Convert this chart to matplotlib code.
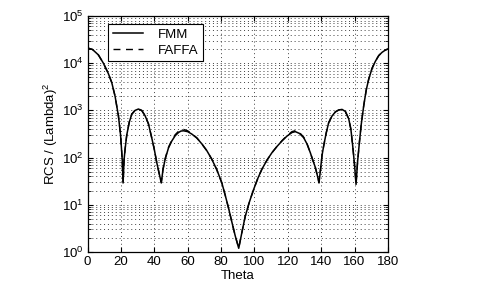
import matplotlib
matplotlib.use("Agg")
import matplotlib.pyplot as plt
from matplotlib.ticker import LogLocator, NullFormatter

plt.rcParams['font.family'] = ['Liberation Sans', 'DejaVu Sans']
plt.rcParams['mathtext.fontset'] = 'custom'
plt.rcParams['mathtext.rm'] = 'Liberation Sans'
plt.rcParams['mathtext.it'] = 'Liberation Sans:italic'
plt.rcParams['mathtext.bf'] = 'Liberation Sans:bold'

theta = [0, 3, 6.5, 9.5, 12.5, 14.5, 16.5, 18.5, 19.8, 20.8, 21.3, 21.9, 22.5,
         23.5, 25, 26.5, 28.5, 30.5, 32.5, 34.5, 36.5, 38.5, 40, 41.5, 43, 44.2,
         45.2, 46.5, 48.5, 50.5, 52.5, 54.5, 56, 57.5, 60, 62.5, 65.5, 68.5,
         71.5, 74.5, 77.5, 80.5, 82.5, 84.5, 86.5, 88.5, 90.6, 92.5, 94.5, 97,
         99.5, 102, 104.5, 107.5, 110.5, 113.5, 116.5, 119.5, 122.5, 124.5,
         127, 129.5, 131.5, 133.5, 135, 136.5, 137.7, 138.7, 139.7, 140.5,
         141.5, 143, 144.5, 146.5, 148.5, 150.5, 152.5, 154.5, 156.5, 157.8,
         158.9, 160, 160.9, 161.8, 162.9, 164, 165.5, 167, 168.5, 170.5, 172.5,
         174.5, 176.5, 178.5, 180]

fmm = [2.1e4, 1.95e4, 1.5e4, 1.0e4, 6.0e3, 3.9e3, 2.0e3, 770, 300, 90, 29, 90, 150,
       300, 560, 830, 1000, 1070, 990, 770, 520, 260, 150, 78, 45, 29,
       55, 92, 160, 225, 290, 340, 365, 370, 355, 315, 260, 195,
       140, 92, 55, 29, 16, 8.5, 4.3, 2.2, 1.2, 2.6, 5.7, 11.5,
       21, 36, 57, 88, 127, 172, 225, 285, 340, 355,
       325, 265, 195, 127, 88, 62, 42, 29, 60, 110,
       177, 330, 550, 760, 930, 1020, 1050, 950, 665, 400,
       177, 70, 27, 80, 208, 500, 1260, 2700, 4600, 7800, 1.1e4,
       1.45e4, 1.7e4, 1.9e4, 2.0e4]

faffa = [2.1e4, 1.95e4, 1.5e4, 1.0e4, 6.0e3, 3.9e3, 2.0e3, 770, 300, 90, 29, 90, 150,
         300, 560, 830, 1010, 1080, 1000, 770, 520, 260, 150, 78, 45, 30,
         57, 95, 165, 235, 305, 360, 390, 395, 370, 320, 262, 195,
         140, 92, 55, 29, 16, 8.5, 4.3, 2.2, 1.22, 2.6, 5.7, 11.5,
         21, 36, 57, 88, 127, 172, 228, 292, 355, 372,
         340, 272, 198, 127, 88, 62, 42, 30, 60, 110,
         177, 330, 550, 760, 930, 1020, 1050, 950, 665, 400,
         177, 70, 28, 80, 208, 500, 1260, 2700, 4600, 7800, 1.1e4,
         1.45e4, 1.7e4, 1.9e4, 2.0e4]

xticks = [0, 20, 40, 60, 80, 100, 120, 140, 160, 180]

fig = plt.figure(figsize=(4.99, 2.83), dpi=100)
ax = fig.add_axes([0.1754, 0.1095, 0.602, 0.834])

ax.semilogy(theta, fmm, color='black', lw=1.1, linestyle='-', label='FMM')
ax.semilogy(theta, faffa, color='black', lw=1.0, linestyle=(0, (5, 4)), label='FAFFA')

ax.set_xlim(0, 180)
ax.set_ylim(1, 1e5)
ax.set_xticks(xticks)
ax.yaxis.set_major_locator(LogLocator(base=10, numticks=10))
ax.yaxis.set_minor_locator(LogLocator(base=10, subs=range(2, 10), numticks=20))
ax.yaxis.set_minor_formatter(NullFormatter())

ax.grid(True, which='major', axis='both', linestyle=(0, (1, 3)), color='0.25', lw=0.7)
ax.grid(True, which='minor', axis='y', linestyle=(0, (1, 3)), color='0.25', lw=0.7)

ax.tick_params(which='both', direction='in', top=True, right=True, labelsize=9.5)
ax.tick_params(which='major', length=3.5, pad=3)
ax.tick_params(which='minor', length=2)
for s in ax.spines.values():
    s.set_linewidth(0.9)

ax.set_xlabel('Theta', fontsize=9.5, labelpad=1)
ax.set_ylabel('RCS / (Lambda)$^2$', fontsize=9.5, labelpad=1)

leg = ax.legend(loc='upper left', bbox_to_anchor=(0.068, 0.965), fontsize=9.5,
                handlelength=2.3, frameon=True, fancybox=False, framealpha=1,
                edgecolor='black', borderpad=0.35, labelspacing=0.25,
                handletextpad=1.1, borderaxespad=0)
leg.get_frame().set_linewidth(0.8)

fig.savefig('out.png', dpi=100)
